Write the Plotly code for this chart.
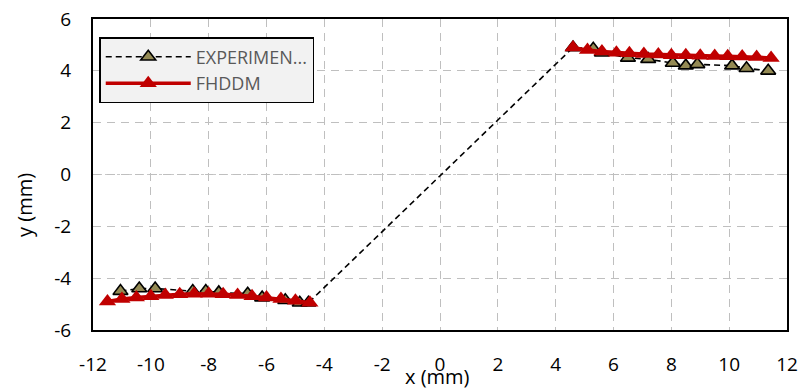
import plotly.graph_objects as go

# Experimental data (olive triangles, dashed black line)
exp_x = [-11.05, -10.4, -9.85, -8.55, -8.1, -7.65, -6.65, -6.15, -5.35, -4.85, -4.55,
         4.6, 5.3, 5.6, 6.5, 7.2, 8.05, 8.5, 8.9, 10.1, 10.6, 11.35]
exp_y = [-4.5, -4.4, -4.4, -4.5, -4.5, -4.55, -4.6, -4.75, -4.85, -4.95, -4.95,
         4.9, 4.85, 4.7, 4.5, 4.45, 4.3, 4.2, 4.25, 4.2, 4.1, 4.0]

# FHDDM data (red line with red triangles), two branches
fh_left_x = [-11.5, -11.0, -10.5, -10.0, -9.5, -9.0, -8.5, -8.0, -7.5, -7.0, -6.5, -6.0, -5.5, -5.0, -4.5]
fh_left_y = [-4.9, -4.8, -4.75, -4.7, -4.65, -4.62, -4.6, -4.6, -4.62, -4.65, -4.7, -4.75, -4.8, -4.87, -4.95]
fh_right_x = [4.6, 5.1, 5.6, 6.1, 6.55, 7.05, 7.55, 8.0, 8.5, 9.0, 9.5, 9.95, 10.45, 10.95, 11.45]
fh_right_y = [4.9, 4.8, 4.75, 4.7, 4.68, 4.65, 4.63, 4.6, 4.6, 4.58, 4.57, 4.56, 4.55, 4.53, 4.5]

x_ticks = [-12, -10, -8, -6, -4, -2, 0, 2, 4, 6, 8, 10, 12]
y_ticks = [-6, -4, -2, 0, 2, 4, 6]

FONT = "Open Sans"
RED = "#C00000"
OLIVE = "#948A54"

fig = go.Figure()

fig.add_trace(go.Scatter(
    x=exp_x, y=exp_y, mode="lines+markers", name="EXPERIMEN...",
    line=dict(color="black", width=1.6, dash="6px,4px"),
    marker=dict(symbol="triangle-up", size=13, color=OLIVE,
                line=dict(color="black", width=1.6)),
))
fig.add_trace(go.Scatter(
    x=fh_left_x + [None] + fh_right_x, y=fh_left_y + [None] + fh_right_y,
    mode="lines+markers", name="FHDDM", connectgaps=False,
    line=dict(color=RED, width=3.5),
    marker=dict(symbol="triangle-up", size=15, color=RED, line=dict(width=0)),
))

# y=0 dotted line replacing dashed grid
fig.add_shape(type="line", xref="paper", yref="y", x0=0, x1=1, y0=0, y1=0,
              line=dict(color="white", width=2), layer="below")
fig.add_shape(type="line", xref="paper", yref="y", x0=0, x1=1, y0=0, y1=0,
              line=dict(color="#c8c8c8", width=1, dash="dot"), layer="below")

fig.update_layout(
    width=798, height=390,
    margin=dict(l=93, r=11, t=19, b=60, autoexpand=False),
    paper_bgcolor="white", plot_bgcolor="white",
    font=dict(family=FONT, size=19, color="black"),
    showlegend=True,
    legend=dict(
        x=0.009, y=0.942, xanchor="left", yanchor="top",
        bgcolor="#f2f2f2", bordercolor="black", borderwidth=1.5,
        font=dict(family=FONT, size=18, color="#595959"),
        itemwidth=85, tracegroupgap=0,
    ),
    xaxis=dict(
        range=[-12, 12], tickvals=x_ticks, ticktext=[str(v) for v in x_ticks],
        showgrid=True, gridcolor="#bfbfbf", gridwidth=1, griddash="8px,6px",
        zeroline=False, showline=True, linecolor="black", linewidth=2, mirror=True,
        ticks="", ticklabelstandoff=16, ticklabeloverflow="allow",
        tickfont=dict(family=FONT, size=19, color="black"),
    ),
    yaxis=dict(
        range=[-6, 6], tickvals=y_ticks, ticktext=[str(v) for v in y_ticks],
        showgrid=True, gridcolor="#bfbfbf", gridwidth=1, griddash="8px,6px",
        zeroline=False, showline=True, linecolor="black", linewidth=2, mirror=True,
        ticks="", ticklabelstandoff=16, ticklabeloverflow="allow",
        tickfont=dict(family=FONT, size=19, color="black"),
    ),
    annotations=[
        dict(text="x (mm)", xref="paper", yref="paper", x=0.496, y=-0.148,
             xanchor="center", yanchor="middle", showarrow=False,
             font=dict(family=FONT, size=20, color="black")),
        dict(text="y (mm)", xref="paper", yref="paper", x=-0.098, y=0.402,
             xanchor="center", yanchor="middle", showarrow=False, textangle=-90,
             font=dict(family=FONT, size=20, color="black")),
    ],
)

fig.write_html("out.html", config={"displayModeBar": False},
               post_script="document.body.style.margin='0';")
